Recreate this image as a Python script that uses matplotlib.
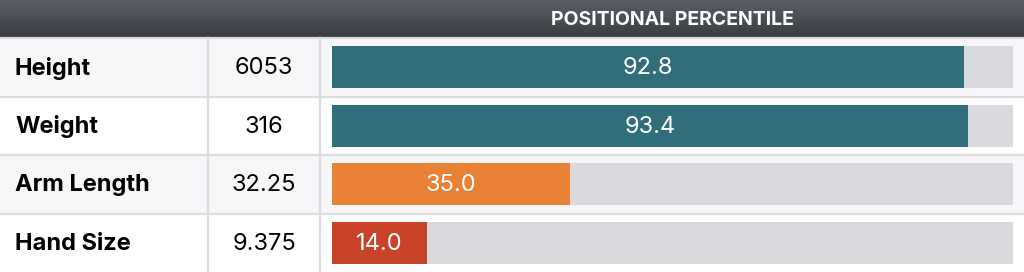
import numpy as np
import matplotlib
matplotlib.use("Agg")
import matplotlib.pyplot as plt

# table data
labels = ["Height", "Weight", "Arm Length", "Hand Size"]
measures = ["6053", "316", "32.25", "9.375"]
percentiles = [92.8, 93.4, 35.0, 14.0]
bar_colors = ["#2f6e7a", "#2f6e7a", "#e98234", "#c94329"]
header = "POSITIONAL PERCENTILE"

plt.rcParams['font.family'] = ['Inter', 'DejaVu Sans']

W, H = 1024, 272
HEAD = 38
ROW = (H - HEAD) / len(labels)

fig = plt.figure(figsize=(W / 100, H / 100), dpi=100)

# background / table axes in pixel coords
bg = fig.add_axes([0, 0, 1, 1])
bg.set_xlim(0, W)
bg.set_ylim(H, 0)
bg.axis("off")

# header gradient
grad = np.linspace(0, 1, 64).reshape(-1, 1)
cmap = matplotlib.colors.LinearSegmentedColormap.from_list("hdr", ["#5a5e67", "#3a3c41"])
bg.imshow(grad, extent=[0, W, HEAD, 0], aspect="auto", cmap=cmap, zorder=0)
bg.text(672, HEAD / 2 + 1, header, color="white", fontsize=14, fontweight="bold",
        ha="center", va="center")

for i, (lab, m) in enumerate(zip(labels, measures)):
    y0 = HEAD + i * ROW
    face = "#f7f7f9" if i % 2 == 0 else "white"
    bg.add_patch(plt.Rectangle((0, y0), W, ROW, color=face, zorder=1))
    bg.plot([0, W], [y0, y0], color="#dcdce0", lw=1.6, zorder=2)
    yc = y0 + ROW / 2 + 1
    bg.text(15, yc, lab, fontsize=17, fontweight="bold", color="black",
            ha="left", va="center", zorder=3)
    bg.text(264, yc, m, fontsize=17, color="black", ha="center", va="center", zorder=3)

for x in [208, 320]:
    bg.plot([x, x], [HEAD, H], color="#dcdce0", lw=1.6, zorder=2)

# bar axes
x0, x1 = 332, 1013
ax = fig.add_axes([x0 / W, 0, (x1 - x0) / W, (H - HEAD) / H])
ax.set_xlim(0, 100)
ax.set_ylim(len(labels) - 0.5, -0.5)
ax.axis("off")
ypos = np.arange(len(labels))
ax.barh(ypos, [100] * len(labels), height=0.72, color="#d9dadd", zorder=1)
ax.barh(ypos, percentiles, height=0.72, color=bar_colors, zorder=2)
for y, p in zip(ypos, percentiles):
    ax.text(p / 2, y + 0.02, f"{p:.1f}", color="white", fontsize=17, ha="center",
            va="center", zorder=3)

fig.savefig("out.png", dpi=100)
